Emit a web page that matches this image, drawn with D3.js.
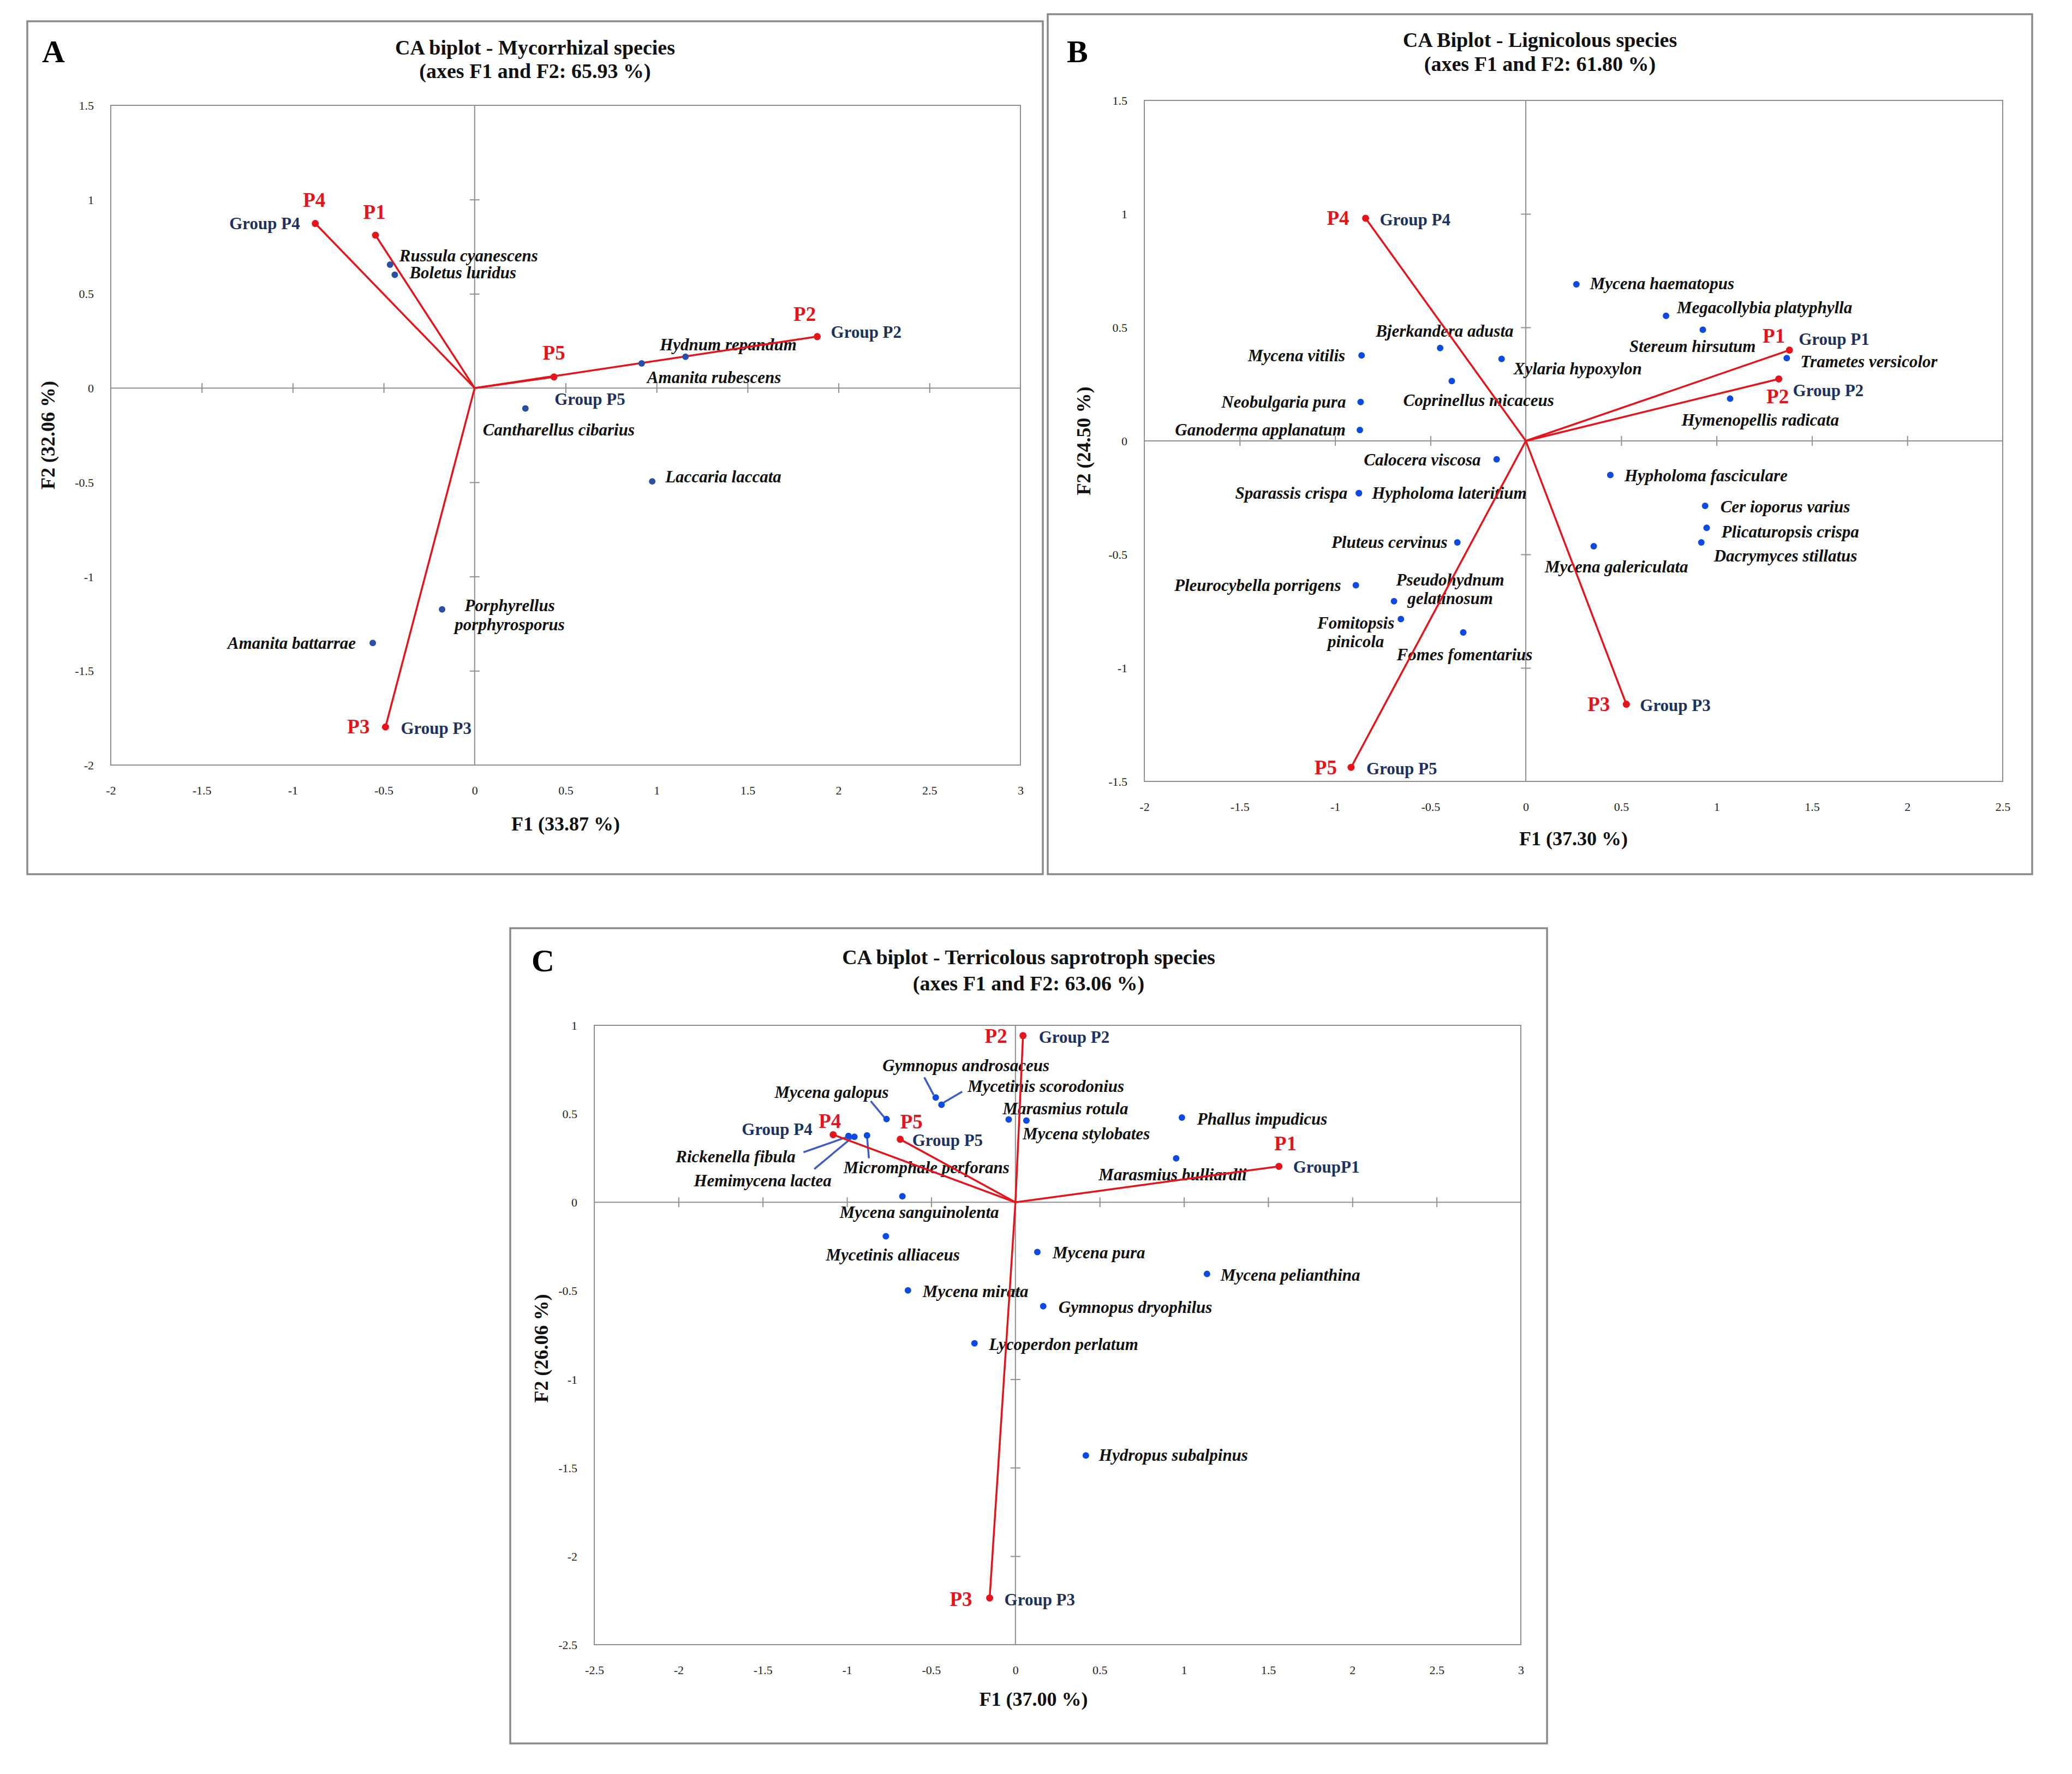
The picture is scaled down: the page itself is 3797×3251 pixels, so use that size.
<!DOCTYPE html>
<html><head><meta charset="utf-8">
<script src="https://cdn.jsdelivr.net/npm/d3@7"></script>
<style>body{margin:0;background:#fff}</style>
</head><body>
<svg id="c" width="3797" height="3251" xmlns="http://www.w3.org/2000/svg"></svg>
<script>
// ================= DATA =================
// Panel A – Mycorrhizal species
const titlesA = ["CA biplot - Mycorrhizal species", "(axes F1 and F2: 65.93 %)"];
const axisTitlesA = ["F1 (33.87 %)", "F2 (32.06 %)"];
const mycoSpecies = ["Russula cyanescens","Boletus luridus","Cantharellus cibarius","Hydnum repandum","Amanita rubescens","Laccaria laccata","Porphyrellus porphyrosporus","Amanita battarrae"];
const mycoF1 = [-0.465,-0.439,0.279,1.159,0.918,0.976,-0.179,-0.560];
const mycoF2 = [0.655,0.601,-0.108,0.166,0.131,-0.495,-1.174,-1.352];
const mycoGroups = ["P1","P2","P3","P4","P5"];
const mycoGroupF1 = [-0.545,1.883,-0.490,-0.876,0.436];
const mycoGroupF2 = [0.811,0.273,-1.798,0.873,0.059];
const mycoGroupNames = [null,"Group P2","Group P3","Group P4","Group P5"];
const xTicksA = [-2,-1.5,-1,-0.5,0,0.5,1,1.5,2,2.5,3];
const xTickLabelsA = ["-2","-1.5","-1","-0.5","0","0.5","1","1.5","2","2.5","3"];
const yTicksA = [-2,-1.5,-1,-0.5,0,0.5,1,1.5];
const yTickLabelsA = ["-2","-1.5","-1","-0.5","0","0.5","1","1.5"];

// Panel B – Lignicolous species
const titlesB = ["CA Biplot - Lignicolous species", "(axes F1 and F2: 61.80 %)"];
const axisTitlesB = ["F1 (37.30 %)", "F2 (24.50 %)"];
const ligSpecies = ["Mycena haematopus","Megacollybia platyphylla","Stereum hirsutum","Trametes versicolor","Hymenopellis radicata","Bjerkandera adusta","Mycena vitilis","Xylaria hypoxylon","Coprinellus micaceus","Neobulgaria pura","Ganoderma applanatum","Calocera viscosa","Sparassis crispa","Hypholoma lateritium","Pluteus cervinus","Pleurocybella porrigens","Pseudohydnum gelatinosum","Fomitopsis pinicola","Fomes fomentarius","Hypholoma fasciculare","Cer ioporus varius","Plicaturopsis crispa","Dacrymyces stillatus","Mycena galericulata"];
const ligF1 = [0.265,0.735,0.928,1.368,1.071,-0.449,-0.861,-0.127,-0.388,-0.866,-0.870,-0.153,-0.875,-0.875,-0.359,-0.891,-0.691,-0.655,-0.328,0.443,0.940,0.948,0.920,0.356];
const ligF2 = [0.690,0.551,0.490,0.365,0.186,0.409,0.377,0.361,0.264,0.171,0.048,-0.081,-0.230,-0.230,-0.447,-0.636,-0.706,-0.785,-0.844,-0.150,-0.286,-0.383,-0.447,-0.464];
const ligGroups = ["P1","P2","P3","P4","P5"];
const ligGroupF1 = [1.382,1.326,0.527,-0.840,-0.916];
const ligGroupF2 = [0.400,0.273,-1.160,0.981,-1.438];
const ligGroupNames = ["Group P1","Group P2","Group P3","Group P4","Group P5"];
const xTicksB = [-2,-1.5,-1,-0.5,0,0.5,1,1.5,2,2.5];
const xTickLabelsB = ["-2","-1.5","-1","-0.5","0","0.5","1","1.5","2","2.5"];
const yTicksB = [-1.5,-1,-0.5,0,0.5,1,1.5];
const yTickLabelsB = ["-1.5","-1","-0.5","0","0.5","1","1.5"];

// Panel C – Terricolous saprotroph species
const titlesC = ["CA biplot - Terricolous saprotroph species", "(axes F1 and F2: 63.06 %)"];
const axisTitlesC = ["F1 (37.00 %)", "F2 (26.06 %)"];
const terSpecies = ["Gymnopus androsaceus","Mycetinis scorodonius","Mycena galopus","Marasmius rotula","Mycena stylobates","Rickenella fibula","Hemimycena lactea","Micromphale perforans","Mycena sanguinolenta","Mycetinis alliaceus","Mycena mirata","Lycoperdon perlatum","Mycena pura","Gymnopus dryophilus","Mycena pelianthina","Phallus impudicus","Marasmius bulliardii","Hydropus subalpinus"];
const terF1 = [-0.473,-0.439,-0.765,-0.040,0.065,-0.991,-0.956,-0.881,-0.671,-0.769,-0.638,-0.243,0.130,0.165,1.137,0.988,0.954,0.418];
const terF2 = [0.592,0.551,0.470,0.468,0.462,0.375,0.370,0.378,0.034,-0.192,-0.498,-0.797,-0.281,-0.587,-0.405,0.479,0.248,-1.431];
const terGroups = ["P1","P2","P3","P4","P5"];
const terGroupF1 = [1.564,0.045,-0.153,-1.082,-0.684];
const terGroupF2 = [0.203,0.942,-2.236,0.382,0.356];
const terGroupNames = ["GroupP1","Group P2","Group P3","Group P4","Group P5"];
const xTicksC = [-2.5,-2,-1.5,-1,-0.5,0,0.5,1,1.5,2,2.5,3];
const xTickLabelsC = ["-2.5","-2","-1.5","-1","-0.5","0","0.5","1","1.5","2","2.5","3"];
const yTicksC = [-2.5,-2,-1.5,-1,-0.5,0,0.5,1];
const yTickLabelsC = ["-2.5","-2","-1.5","-1","-0.5","0","0.5","1"];

// ================= LAYOUT (label offsets in px: dx, dy, anchor, wrap line height) =================
const layoutA = {
  letter:"A", border:[50,39,1911,1602], plot:[203,193,1870,1402], xd:[-2,3], yd:[-2,1.5],
  titleX:980.5, titleY:[100,143], letterXY:[77,114], xTitleXY:[1036.5,1522], yTitleXY:[100,797.5],
  blue:"#2a50a6",
  species:{
    "Russula cyanescens":[17,-6,"start"], "Boletus luridus":[27,6,"start"],
    "Cantharellus cibarius":[-78,50,"start"], "Hydnum repandum":[-47,-12,"start"],
    "Amanita rubescens":[10,36,"start"], "Laccaria laccata":[24,2,"start"],
    "Porphyrellus porphyrosporus":[124,3,"middle",35], "Amanita battarrae":[-31,11,"end"]
  },
  red:{P1:[-2,-30,"middle"],P2:[-23,-29,"middle"],P3:[-29,12,"end"],P4:[-2,-31,"middle"],P5:[0,-32,"middle"]},
  grp:{P2:[25,2,"start"],P3:[28,13,"start"],P4:[-28,10,"end"],P5:[1,51,"start"]},
  leaders:{}
};
const layoutB = {
  letter:"B", border:[1920,26,3724,1602], plot:[2097,184,3670,1432], xd:[-2,2.5], yd:[-1.5,1.5],
  titleX:2822, titleY:[86,130], letterXY:[1955,114], xTitleXY:[2883.5,1549], yTitleXY:[1998,808],
  blue:"#0d4ae2",
  species:{
    "Mycena haematopus":[25,9,"start"], "Megacollybia platyphylla":[20,-5,"start"],
    "Stereum hirsutum":[97,41,"end"], "Trametes versicolor":[25,17,"start"],
    "Hymenopellis radicata":[-89,49,"start"], "Bjerkandera adusta":[-118,-21,"start"],
    "Mycena vitilis":[-30,11,"end"], "Xylaria hypoxylon":[22,28,"start"],
    "Coprinellus micaceus":[-89,46,"start"], "Neobulgaria pura":[-27,10,"end"],
    "Ganoderma applanatum":[-26,10,"end"], "Calocera viscosa":[-29,11,"end"],
    "Sparassis crispa":[-21,10,"end"], "Hypholoma lateritium":[24,10,"start"],
    "Pluteus cervinus":[-18,10,"end"], "Pleurocybella porrigens":[-27,10,"end"],
    "Pseudohydnum gelatinosum":[103,-29,"middle",34.5], "Fomitopsis pinicola":[-82.5,17.4,"middle",34.5],
    "Fomes fomentarius":[-122,51,"start"], "Hypholoma fasciculare":[26,12,"start"],
    "Cer ioporus varius":[28,12,"start"], "Plicaturopsis crispa":[27,18,"start"],
    "Dacrymyces stillatus":[23,35,"start"], "Mycena galericulata":[173,48,"end"]
  },
  red:{P1:[-8,-14,"end"],P2:[-2,45,"middle"],P3:[-30,12,"end"],P4:[-30,12,"end"],P5:[-26,13,"end"]},
  grp:{P1:[17,-10,"start"],P2:[26,32,"start"],P3:[25,12,"start"],P4:[26,13,"start"],P5:[28,13,"start"]},
  leaders:{}
};
const layoutC = {
  letter:"C", border:[935,1701,2835,3195], plot:[1089,1879,2787,3014], xd:[-2.5,3], yd:[-2.5,1],
  titleX:1885, titleY:[1767,1815], letterXY:[974,1780], xTitleXY:[1894,3126], yTitleXY:[1004,2471],
  blue:"#0d4ae2",
  species:{
    "Gymnopus androsaceus":[-97.5,-48,"start"], "Mycetinis scorodonius":[48,-24,"start"],
    "Mycena galopus":[4,-39,"end"], "Marasmius rotula":[-11,-10,"start"],
    "Mycena stylobates":[-7,35,"start"], "Rickenella fibula":[-97,48,"end"],
    "Hemimycena lactea":[-42,91,"end"], "Micromphale perforans":[-43,69,"start"],
    "Mycena sanguinolenta":[-115,40,"start"], "Mycetinis alliaceus":[-110,44,"start"],
    "Mycena mirata":[27,12,"start"], "Lycoperdon perlatum":[26.5,12,"start"],
    "Mycena pura":[28,11.5,"start"], "Gymnopus dryophilus":[28,12.5,"start"],
    "Mycena pelianthina":[25,12,"start"], "Phallus impudicus":[28,13,"start"],
    "Marasmius bulliardii":[-142,40,"start"], "Hydropus subalpinus":[24,10,"start"]
  },
  red:{P1:[12,-29,"middle"],P2:[-29,13.5,"end"],P3:[-32,15,"end"],P4:[-6,-12,"middle"],P5:[0,-20,"start"]},
  grp:{P1:[26,12,"start"],P2:[29,13.5,"start"],P3:[27,14,"start"],P4:[-38,1,"end"],P5:[22,12.5,"start"]},
  leaders:{
    "Gymnopus androsaceus":[-21,-37,-4,-5], "Mycetinis scorodonius":[38,-24,4,-4],
    "Mycena galopus":[-29,-33,-4,-3], "Rickenella fibula":[-82.5,30,0,1],
    "Hemimycena lactea":[-73.5,59,-5,2], "Micromphale perforans":[3.5,42,0,2]
  }
};

// ================= DRAW =================
const svg = d3.select("#c");
svg.append("rect").attr("width",3797).attr("height",3251).attr("fill","#fff");
const SERIF = "'Liberation Serif','Times New Roman',serif";
const RED = "#e5141b", NAVY = "#1b3260", GRAY = "#8f8f8f";

function addText(g, str, px, py, spec, style) {
  const [dx, dy, anchor, lh] = spec;
  const t = g.append("text").attr("x", px+dx).attr("y", py+dy).attr("text-anchor", anchor)
    .attr("font-family", SERIF).attr("font-size", style.size).attr("font-weight", style.weight)
    .attr("font-style", style.italic ? "italic" : "normal").attr("fill", style.fill);
  if (lh) {
    const i = str.indexOf(" ");
    t.append("tspan").attr("x", px+dx).attr("dy", 0).text(str.slice(0,i));
    t.append("tspan").attr("x", px+dx).attr("dy", lh).text(str.slice(i+1));
  } else t.text(str);
}

function panel(L, D) {
  const g = svg.append("g");
  const b = L.border;
  g.append("rect").attr("x",b[0]).attr("y",b[1]).attr("width",b[2]-b[0]).attr("height",b[3]-b[1])
    .attr("fill","none").attr("stroke","#8a8a8a").attr("stroke-width",3.5);
  const x = d3.scaleLinear().domain(L.xd).range([L.plot[0], L.plot[2]]);
  const y = d3.scaleLinear().domain(L.yd).range([L.plot[3], L.plot[1]]);
  // plot frame
  g.append("rect").attr("x",x(L.xd[0])).attr("y",y(L.yd[1]))
    .attr("width",x(L.xd[1])-x(L.xd[0])).attr("height",y(L.yd[0])-y(L.yd[1]))
    .attr("fill","none").attr("stroke",GRAY).attr("stroke-width",2);
  // zero axes
  g.append("line").attr("x1",x(L.xd[0])).attr("x2",x(L.xd[1])).attr("y1",y(0)).attr("y2",y(0)).attr("stroke",GRAY).attr("stroke-width",2);
  g.append("line").attr("x1",x(0)).attr("x2",x(0)).attr("y1",y(L.yd[0])).attr("y2",y(L.yd[1])).attr("stroke",GRAY).attr("stroke-width",2);
  // cross ticks on zero axes
  const xt = D.xTicks.filter(v => v!==0 && v>L.xd[0] && v<L.xd[1]);
  const yt = D.yTicks.filter(v => v!==0 && v>L.yd[0] && v<L.yd[1]);
  g.append("g").attr("transform",`translate(0,${y(0)-9})`)
    .call(d3.axisBottom(x).tickValues(xt).tickSize(18).tickFormat(""))
    .call(a => { a.select(".domain").remove(); a.selectAll("line").attr("stroke",GRAY).attr("stroke-width",2); });
  g.append("g").attr("transform",`translate(${x(0)-9},0)`)
    .call(d3.axisRight(y).tickValues(yt).tickSize(18).tickFormat(""))
    .call(a => { a.select(".domain").remove(); a.selectAll("line").attr("stroke",GRAY).attr("stroke-width",2); });
  // tick labels at plot edges
  g.append("g").attr("transform",`translate(0,${L.plot[3]})`)
    .call(d3.axisBottom(x).tickValues(D.xTicks).tickSize(0).tickFormat((v,i)=>D.xTickLabels[i]))
    .call(a => { a.select(".domain").remove(); a.attr("font-family",SERIF).attr("font-size",22);
      a.selectAll("text").attr("y",54).attr("dy",null).attr("fill","#222"); });
  g.append("g").attr("transform",`translate(${L.plot[0]},0)`)
    .call(d3.axisLeft(y).tickValues(D.yTicks).tickSize(0).tickFormat((v,i)=>D.yTickLabels[i]))
    .call(a => { a.select(".domain").remove(); a.attr("font-family",SERIF).attr("font-size",22);
      a.selectAll("text").attr("x",-31).attr("dy","0.34em").attr("fill","#222"); });
  // titles
  D.titles.forEach((t,i) => g.append("text").attr("x",L.titleX).attr("y",L.titleY[i]).attr("text-anchor","middle")
    .attr("font-family",SERIF).attr("font-size",38).attr("font-weight","bold").attr("fill","#111").text(t));
  g.append("text").attr("x",L.letterXY[0]).attr("y",L.letterXY[1]).attr("font-family",SERIF)
    .attr("font-size",58).attr("font-weight","bold").attr("fill","#000").text(L.letter);
  g.append("text").attr("x",L.xTitleXY[0]).attr("y",L.xTitleXY[1]).attr("text-anchor","middle")
    .attr("font-family",SERIF).attr("font-size",36).attr("font-weight","bold").attr("fill","#111").text(D.axisTitles[0]);
  g.append("text").attr("transform",`translate(${L.yTitleXY[0]},${L.yTitleXY[1]}) rotate(-90)`).attr("text-anchor","middle")
    .attr("font-family",SERIF).attr("font-size",36).attr("font-weight","bold").attr("fill","#111").text(D.axisTitles[1]);

  const sp = D.species.map((n,i) => ({name:n, px:x(D.f1[i]), py:y(D.f2[i])}));
  const gp = D.groups.map((n,i) => ({name:n, label:D.groupNames[i], px:x(D.gf1[i]), py:y(D.gf2[i])}));

  // species labels
  sp.forEach(s => addText(g, s.name, s.px, s.py, L.species[s.name], {size:31, weight:"bold", italic:true, fill:"#111"}));
  // group labels
  gp.forEach(p => {
    addText(g, p.name, p.px, p.py, L.red[p.name], {size:37, weight:"bold", fill:RED});
    if (p.label) addText(g, p.label, p.px, p.py, L.grp[p.name], {size:31, weight:"bold", fill:NAVY});
  });
  // leader lines
  sp.forEach(s => { const l = L.leaders[s.name]; if (!l) return;
    g.append("line").attr("x1",s.px+l[0]).attr("y1",s.py+l[1]).attr("x2",s.px+l[2]).attr("y2",s.py+l[3])
      .attr("stroke","#3f5bc9").attr("stroke-width",3.5); });
  // red vectors
  g.selectAll(".vec").data(gp).join("line").attr("x1",x(0)).attr("y1",y(0))
    .attr("x2",d=>d.px).attr("y2",d=>d.py).attr("stroke",RED).attr("stroke-width",3.5);
  // species points
  g.selectAll(".sp").data(sp).join("circle").attr("cx",d=>d.px).attr("cy",d=>d.py).attr("r",6).attr("fill",L.blue);
  // group points
  g.selectAll(".gp").data(gp).join("circle").attr("cx",d=>d.px).attr("cy",d=>d.py).attr("r",6.5).attr("fill",RED);
}

panel(layoutA, {titles:titlesA, axisTitles:axisTitlesA, species:mycoSpecies, f1:mycoF1, f2:mycoF2,
  groups:mycoGroups, gf1:mycoGroupF1, gf2:mycoGroupF2, groupNames:mycoGroupNames,
  xTicks:xTicksA, xTickLabels:xTickLabelsA, yTicks:yTicksA, yTickLabels:yTickLabelsA});
panel(layoutB, {titles:titlesB, axisTitles:axisTitlesB, species:ligSpecies, f1:ligF1, f2:ligF2,
  groups:ligGroups, gf1:ligGroupF1, gf2:ligGroupF2, groupNames:ligGroupNames,
  xTicks:xTicksB, xTickLabels:xTickLabelsB, yTicks:yTicksB, yTickLabels:yTickLabelsB});
panel(layoutC, {titles:titlesC, axisTitles:axisTitlesC, species:terSpecies, f1:terF1, f2:terF2,
  groups:terGroups, gf1:terGroupF1, gf2:terGroupF2, groupNames:terGroupNames,
  xTicks:xTicksC, xTickLabels:xTickLabelsC, yTicks:yTicksC, yTickLabels:yTickLabelsC});
</script>
</body></html>
